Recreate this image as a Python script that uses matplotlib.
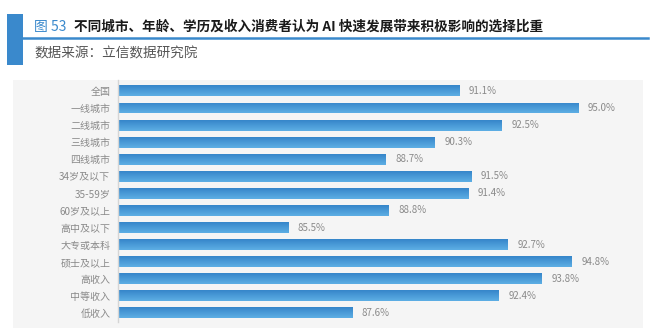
import numpy as np
import matplotlib
matplotlib.use('Agg')
import matplotlib.pyplot as plt
from matplotlib.patches import Rectangle
from matplotlib.lines import Line2D
from matplotlib.colors import LinearSegmentedColormap

plt.rcParams['font.family'] = ['Noto Sans CJK SC', 'DejaVu Sans']

categories = ['全国', '一线城市', '二线城市', '三线城市', '四线城市', '34岁及以下', '35-59岁',
              '60岁及以上', '高中及以下', '大专或本科', '硕士及以上', '高收入', '中等收入', '低收入']
values = [91.1, 95.0, 92.5, 90.3, 88.7, 91.5, 91.4, 88.8, 85.5, 92.7, 94.8, 93.8, 92.4, 87.6]

W, H = 661, 336
blue = '#3a89cc'

fig = plt.figure(figsize=(W / 100, H / 100), dpi=100)
fig.patch.set_facecolor('white')

# grey panel behind the chart
fig.patches.append(Rectangle((13 / W, 1 - 328 / H), (643 - 13) / W, (328 - 80) / H,
                             transform=fig.transFigure, facecolor='#f5f5f5', edgecolor='none', zorder=-5))
# header decorations
fig.patches.append(Rectangle((7 / W, 1 - 65 / H), 16 / W, 51 / H,
                             transform=fig.transFigure, facecolor=blue, edgecolor='none', zorder=1))
fig.lines.append(Line2D([23 / W, 648 / W], [1 - 38 / H, 1 - 38 / H], transform=fig.transFigure,
                        color=blue, lw=1.8, zorder=1))

fig.text(34 / W, 1 - 27 / H, '图 53', color=blue, fontsize=10, va='center', ha='left')
fig.text(74 / W, 1 - 27 / H, '不同城市、年龄、学历及收入消费者认为 AI 快速发展带来积极影响的选择比重',
         color='#1a1a1a', fontsize=9.8, fontweight='bold', va='center', ha='left')
fig.text(34 / W, 1 - 53 / H, '数据来源：立信数据研究院', color='#555555', fontsize=9.8,
         va='center', ha='left')

ax = fig.add_axes([118 / W, 1 - 322 / H, (608.6 - 118) / W, (322 - 80) / H])
ax.patch.set_alpha(0)
ax.set_zorder(2)

x0 = 79.93
ax.set_xlim(x0, 96)
ax.set_ylim(13.53, -0.64)

y = np.arange(len(categories))
bars = ax.barh(y, values, height=0.64, color='#4a9bdb', zorder=2)

# light vertical gradient on each bar (darker on top)
cmap = LinearSegmentedColormap.from_list('bar', ['#3686ca', '#5daee4'])
grad = np.linspace(0, 1, 32).reshape(-1, 1)
for b in bars:
    by, bh = b.get_y(), b.get_height()
    im = ax.imshow(grad, cmap=cmap, aspect='auto', zorder=3,
                   extent=(x0, b.get_width(), by + bh, by), origin='upper')
    im.set_clip_path(b)

for yi, v in zip(y, values):
    ax.annotate(f'{v:.1f}%', (v, yi), xytext=(7, 0), textcoords='offset points',
                va='center', ha='left', fontsize=7, color='#8a8a8a')

ax.set_xlim(x0, 96)
ax.set_ylim(13.53, -0.64)
ax.set_yticks(y)
ax.set_yticklabels(categories, fontsize=7.2, color='#8a8a8a')
ax.tick_params(axis='y', length=0, pad=5.5)
ax.set_xticks([])
for s in ['top', 'right', 'bottom']:
    ax.spines[s].set_visible(False)
ax.spines['left'].set_color('#d5d5d5')
ax.spines['left'].set_linewidth(1)
ax.spines['left'].set_zorder(4)

fig.savefig('out.png', dpi=100)
